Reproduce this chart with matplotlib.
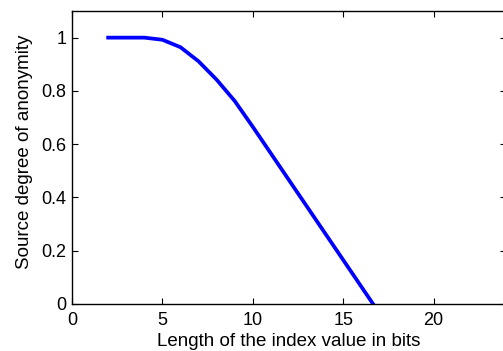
import matplotlib.pyplot as plt

# Data
bits = [2, 3, 4, 5, 6, 7, 8, 9, 10, 11, 12, 13, 14, 15, 16, 16.65]
anonymity = [1.0, 1.0, 1.0, 0.992, 0.964, 0.911, 0.842, 0.762, 0.665, 0.565,
             0.465, 0.365, 0.265, 0.165, 0.065, 0.0]

x_ticks = [0, 5, 10, 15, 20]
y_ticks = [0, 0.2, 0.4, 0.6, 0.8, 1]
y_tick_labels = ['0', '0.2', '0.4', '0.6', '0.8', '1']

plt.rcParams['font.family'] = ['Liberation Sans', 'DejaVu Sans']

fig = plt.figure(figsize=(5.03, 3.51), dpi=100)
ax = fig.add_axes([72 / 503, 47 / 351, 434 / 503, 293 / 351])

ax.plot(bits, anonymity, color='#0000ff', linewidth=2.7)

ax.set_xlim(0, 24)
ax.set_ylim(0, 1.1)
ax.set_xticks(x_ticks)
ax.set_yticks(y_ticks)
ax.set_yticklabels(y_tick_labels)
ax.tick_params(direction='in', top=True, right=True, length=4, labelsize=13)
ax.tick_params(axis='x', pad=5.5)
ax.tick_params(axis='y', pad=4)

ax.set_xlabel('Length of the index value in bits', fontsize=13.5)
ax.set_ylabel('Source degree of anonymity', fontsize=13.5)
ax.xaxis.set_label_coords(0.5, -0.1)
ax.yaxis.set_label_coords(-0.09, 0.52)

for s in ax.spines.values():
    s.set_linewidth(1.0)

fig.savefig('out.png', dpi=100)
